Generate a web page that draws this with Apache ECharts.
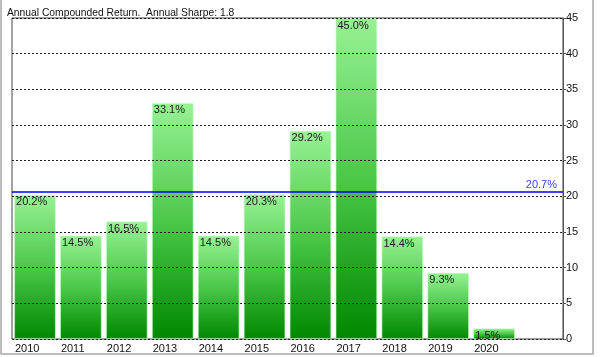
<!DOCTYPE html>
<html>
<head>
<meta charset="utf-8">
<script src="https://cdn.jsdelivr.net/npm/echarts@6/dist/echarts.min.js"></script>
<style>html,body{margin:0;padding:0;background:#fff;}#c{width:600px;height:357px;}</style>
</head>
<body>
<div id="c"></div>
<script>
var titleText = 'Annual Compounded Return.  Annual Sharpe: 1.8';
var years = ['2010','2011','2012','2013','2014','2015','2016','2017','2018','2019','2020',''];
var returns = [20.2, 14.5, 16.5, 33.1, 14.5, 20.3, 29.2, 45.0, 14.4, 9.3, 1.5, null];
var averageReturn = 20.7;
var yTicks = [0,5,10,15,20,25,30,35,40,45];

var chart = echarts.init(document.getElementById('c'), null, {renderer:'canvas'});
var font = 'Liberation Sans, Arial, sans-serif';
chart.setOption({
  animation: false,
  backgroundColor: '#fff',
  title: {
    text: titleText, left: 2, top: 3,
    textStyle: {fontFamily: font, fontSize: 10.3, fontWeight: 'normal', color: '#111'}
  },
  graphic: [{
    type: 'rect', shape: {x: 1, y: -5, width: 592, height: 359},
    style: {fill: 'none', stroke: '#a8a8a8', lineWidth: 1.5}, silent: true
  }],
  grid: {left: 12, right: 37, top: 18, bottom: 18, show: true, borderColor: '#444', borderWidth: 1},
  xAxis: {
    type: 'category', data: years,
    axisLine: {show: false}, axisTick: {show: false},
    axisLabel: {
      interval: 0, margin: 4, color: '#111', fontFamily: font, fontSize: 11,
      formatter: function(v){ return '{a|' + v + '}'; },
      rich: {a: {width: 40, align: 'left', fontFamily: font, fontSize: 11, color: '#111'}}
    }
  },
  yAxis: {
    type: 'value', position: 'right', min: 0, max: 45, interval: 5, z: 3,
    axisLine: {show: true, lineStyle: {color: '#555'}},
    axisTick: {show: true, length: 3, lineStyle: {color: '#555'}},
    axisLabel: {margin: 3, color: '#111', fontFamily: font, fontSize: 11,
      formatter: function(v){ return yTicks.indexOf(v) >= 0 ? String(v) : ''; }},
    splitLine: {show: true, lineStyle: {color: '#222', type: [2, 2], width: 1}}
  },
  series: [{
    type: 'bar', data: returns, barCategoryGap: '9%', z: 2,
    itemStyle: {
      borderColor: 'rgba(200,255,200,0.6)', borderWidth: 1,
      color: new echarts.graphic.LinearGradient(0, 0, 0, 1, [
        {offset: 0, color: '#98f294'},
        {offset: 0.5, color: '#4cc84a'},
        {offset: 1, color: '#008800'}
      ])
    },
    label: {
      show: true, position: 'insideTopLeft', distance: 2,
      formatter: function(p){ return p.value.toFixed(1) + '%'; },
      color: '#1a1a1a', fontFamily: font, fontSize: 11
    },
    markLine: {
      silent: true, symbol: 'none', z: 4,
      data: [{yAxis: averageReturn}],
      lineStyle: {color: '#0000ff', type: 'solid', width: 1.5},
      label: {show: true, position: 'insideEndTop', distance: [6, 1],
        formatter: averageReturn.toFixed(1) + '%', color: '#3a3aff', fontFamily: font, fontSize: 11}
    }
  }]
});
</script>
</body>
</html>
